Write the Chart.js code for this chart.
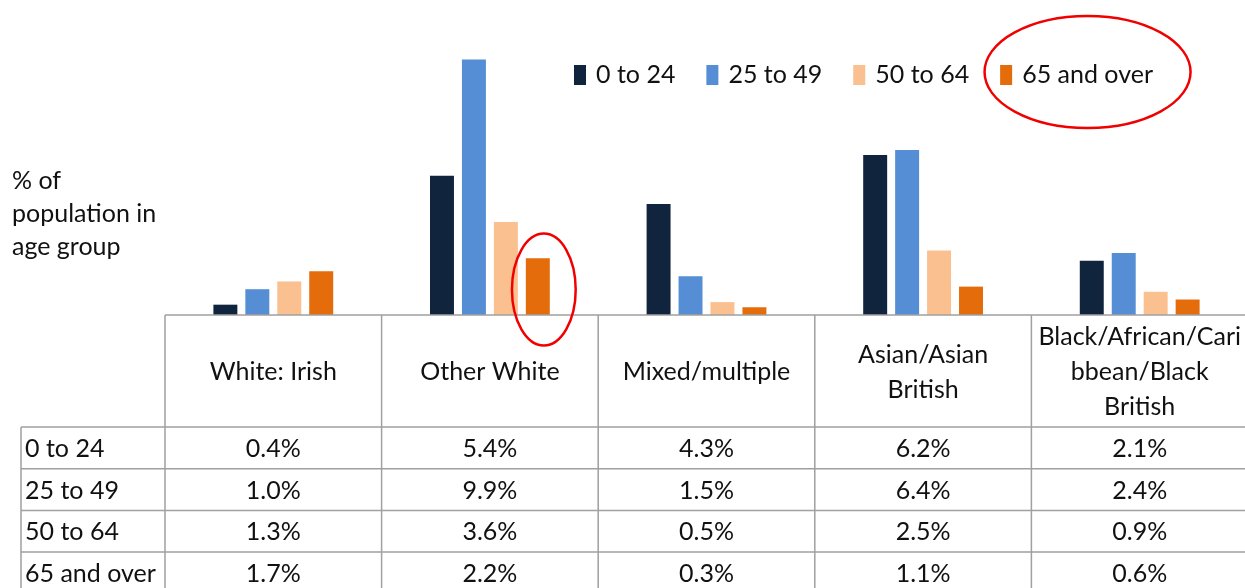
<!DOCTYPE html>
<html>
<head>
<meta charset="utf-8">
<script src="https://cdn.jsdelivr.net/npm/chart.js@4.4.1/dist/chart.umd.min.js"></script>
<style>
  html, body { margin: 0; padding: 0; background: #fff; overflow: hidden; }
  #wrap { width: 1248px; height: 588px; }
</style>
</head>
<body>
<div id="wrap"><canvas id="ethnicChart" width="1248" height="588"></canvas></div>
<script>
// Data
const categories = ['White: Irish', 'Other White', 'Mixed/multiple', 'Asian/Asian British', 'Black/African/Caribbean/Black British'];
const headerLines = [['White: Irish'], ['Other White'], ['Mixed/multiple'], ['Asian/Asian', 'British'], ['Black/African/Cari', 'bbean/Black', 'British']];
const ageGroups = ['0 to 24', '25 to 49', '50 to 64', '65 and over'];
const age0to24 = [0.4, 5.4, 4.3, 6.2, 2.1];
const age25to49 = [1.0, 9.9, 1.5, 6.4, 2.4];
const age50to64 = [1.3, 3.6, 0.5, 2.5, 0.9];
const age65plus = [1.7, 2.2, 0.3, 1.1, 0.6];
const seriesColors = ['#10243E', '#558ED5', '#FAC090', '#E46C0A'];
const yTitle = ['% of', 'population in', 'age group'];

const FONT = "25px Lato, 'Liberation Sans', sans-serif";
const TEXT = '#111';
const GRID = '#A0A0A0';

// Table, legend, axis title and red highlight rings
const extrasPlugin = {
    id: 'extras',
    afterDraw(chart) {
        const ctx = chart.ctx;
        const x = chart.scales.x;
        const area = chart.chartArea;
        const n = chart.data.labels.length;
        const colW = (area.right - area.left) / n;
        const headTop = area.bottom;
        const headBottom = 427;
        const rowH = 41.7;
        const tableLeft = 21;
        const bottom = headBottom + rowH * ageGroups.length;

        ctx.save();

        // grid lines
        ctx.strokeStyle = GRID;
        ctx.lineWidth = 1.5;
        ctx.beginPath();
        ctx.moveTo(area.left, headTop); ctx.lineTo(area.right, headTop);
        for (let r = 0; r <= ageGroups.length; r++) {
            const y = headBottom + r * rowH;
            ctx.moveTo(tableLeft, y); ctx.lineTo(area.right, y);
        }
        ctx.moveTo(tableLeft, headBottom); ctx.lineTo(tableLeft, bottom);
        for (let c = 0; c <= n; c++) {
            const xx = area.left + c * colW;
            ctx.moveTo(xx, headTop); ctx.lineTo(xx, bottom);
        }
        ctx.stroke();

        ctx.font = FONT;
        ctx.fillStyle = TEXT;
        ctx.textBaseline = 'middle';

        // header cells
        ctx.textAlign = 'center';
        headerLines.forEach((lines, i) => {
            const cx = x.getPixelForValue(i);
            const mid = (headTop + headBottom) / 2 + 1;
            lines.forEach((t, k) => {
                ctx.fillText(t, cx, mid + (k - (lines.length - 1) / 2) * 35);
            });
        });

        // data rows
        chart.data.datasets.forEach((ds, r) => {
            const cy = headBottom + r * rowH + rowH / 2 + 1;
            ctx.textAlign = 'left';
            ctx.fillText(ds.label, tableLeft + 4, cy);
            ctx.textAlign = 'center';
            ds.data.forEach((v, i) => {
                ctx.fillText(v.toFixed(1) + '%', x.getPixelForValue(i), cy);
            });
        });

        // y title
        ctx.textAlign = 'left';
        yTitle.forEach((t, k) => ctx.fillText(t, 12, 181 + k * 33));

        // legend
        let lx = 574;
        const ly = 75;
        let lastItem = null;
        chart.data.datasets.forEach((ds) => {
            ctx.fillStyle = ds.backgroundColor;
            ctx.fillRect(lx, ly - 10, 12, 20);
            ctx.fillStyle = TEXT;
            ctx.fillText(ds.label, lx + 22, ly);
            const w = ctx.measureText(ds.label).width;
            lastItem = { x0: lx, x1: lx + 22 + w };
            lx += 22 + w + 31;
        });

        // red rings
        ctx.strokeStyle = '#F00000';
        ctx.lineWidth = 2.5;
        const lcx = (lastItem.x0 + lastItem.x1) / 2 + 11;
        ctx.beginPath();
        ctx.ellipse(lcx, ly - 3, 103, 56, 0, 0, Math.PI * 2);
        ctx.stroke();

        const bar = chart.getDatasetMeta(3).data[1];
        ctx.beginPath();
        ctx.ellipse(bar.x + 6, (bar.y + bar.base) / 2 + 3, bar.width * 1.33, 56, 0, 0, Math.PI * 2);
        ctx.stroke();

        ctx.restore();
    }
};

const seriesData = [age0to24, age25to49, age50to64, age65plus];

new Chart(document.getElementById('ethnicChart').getContext('2d'), {
    type: 'bar',
    data: {
        labels: categories,
        datasets: ageGroups.map((g, i) => ({
            label: g,
            data: seriesData[i],
            backgroundColor: seriesColors[i],
            borderWidth: 0,
            categoryPercentage: 0.59,
            barPercentage: 0.75
        }))
    },
    options: {
        responsive: false,
        animation: false,
        layout: { padding: { left: 165, right: 0, top: 57, bottom: 273 } },
        plugins: {
            legend: { display: false },
            tooltip: { enabled: false }
        },
        scales: {
            x: { display: false, grid: { display: false } },
            y: { display: false, min: 0, max: 10 }
        }
    },
    plugins: [extrasPlugin]
});
</script>
</body>
</html>
